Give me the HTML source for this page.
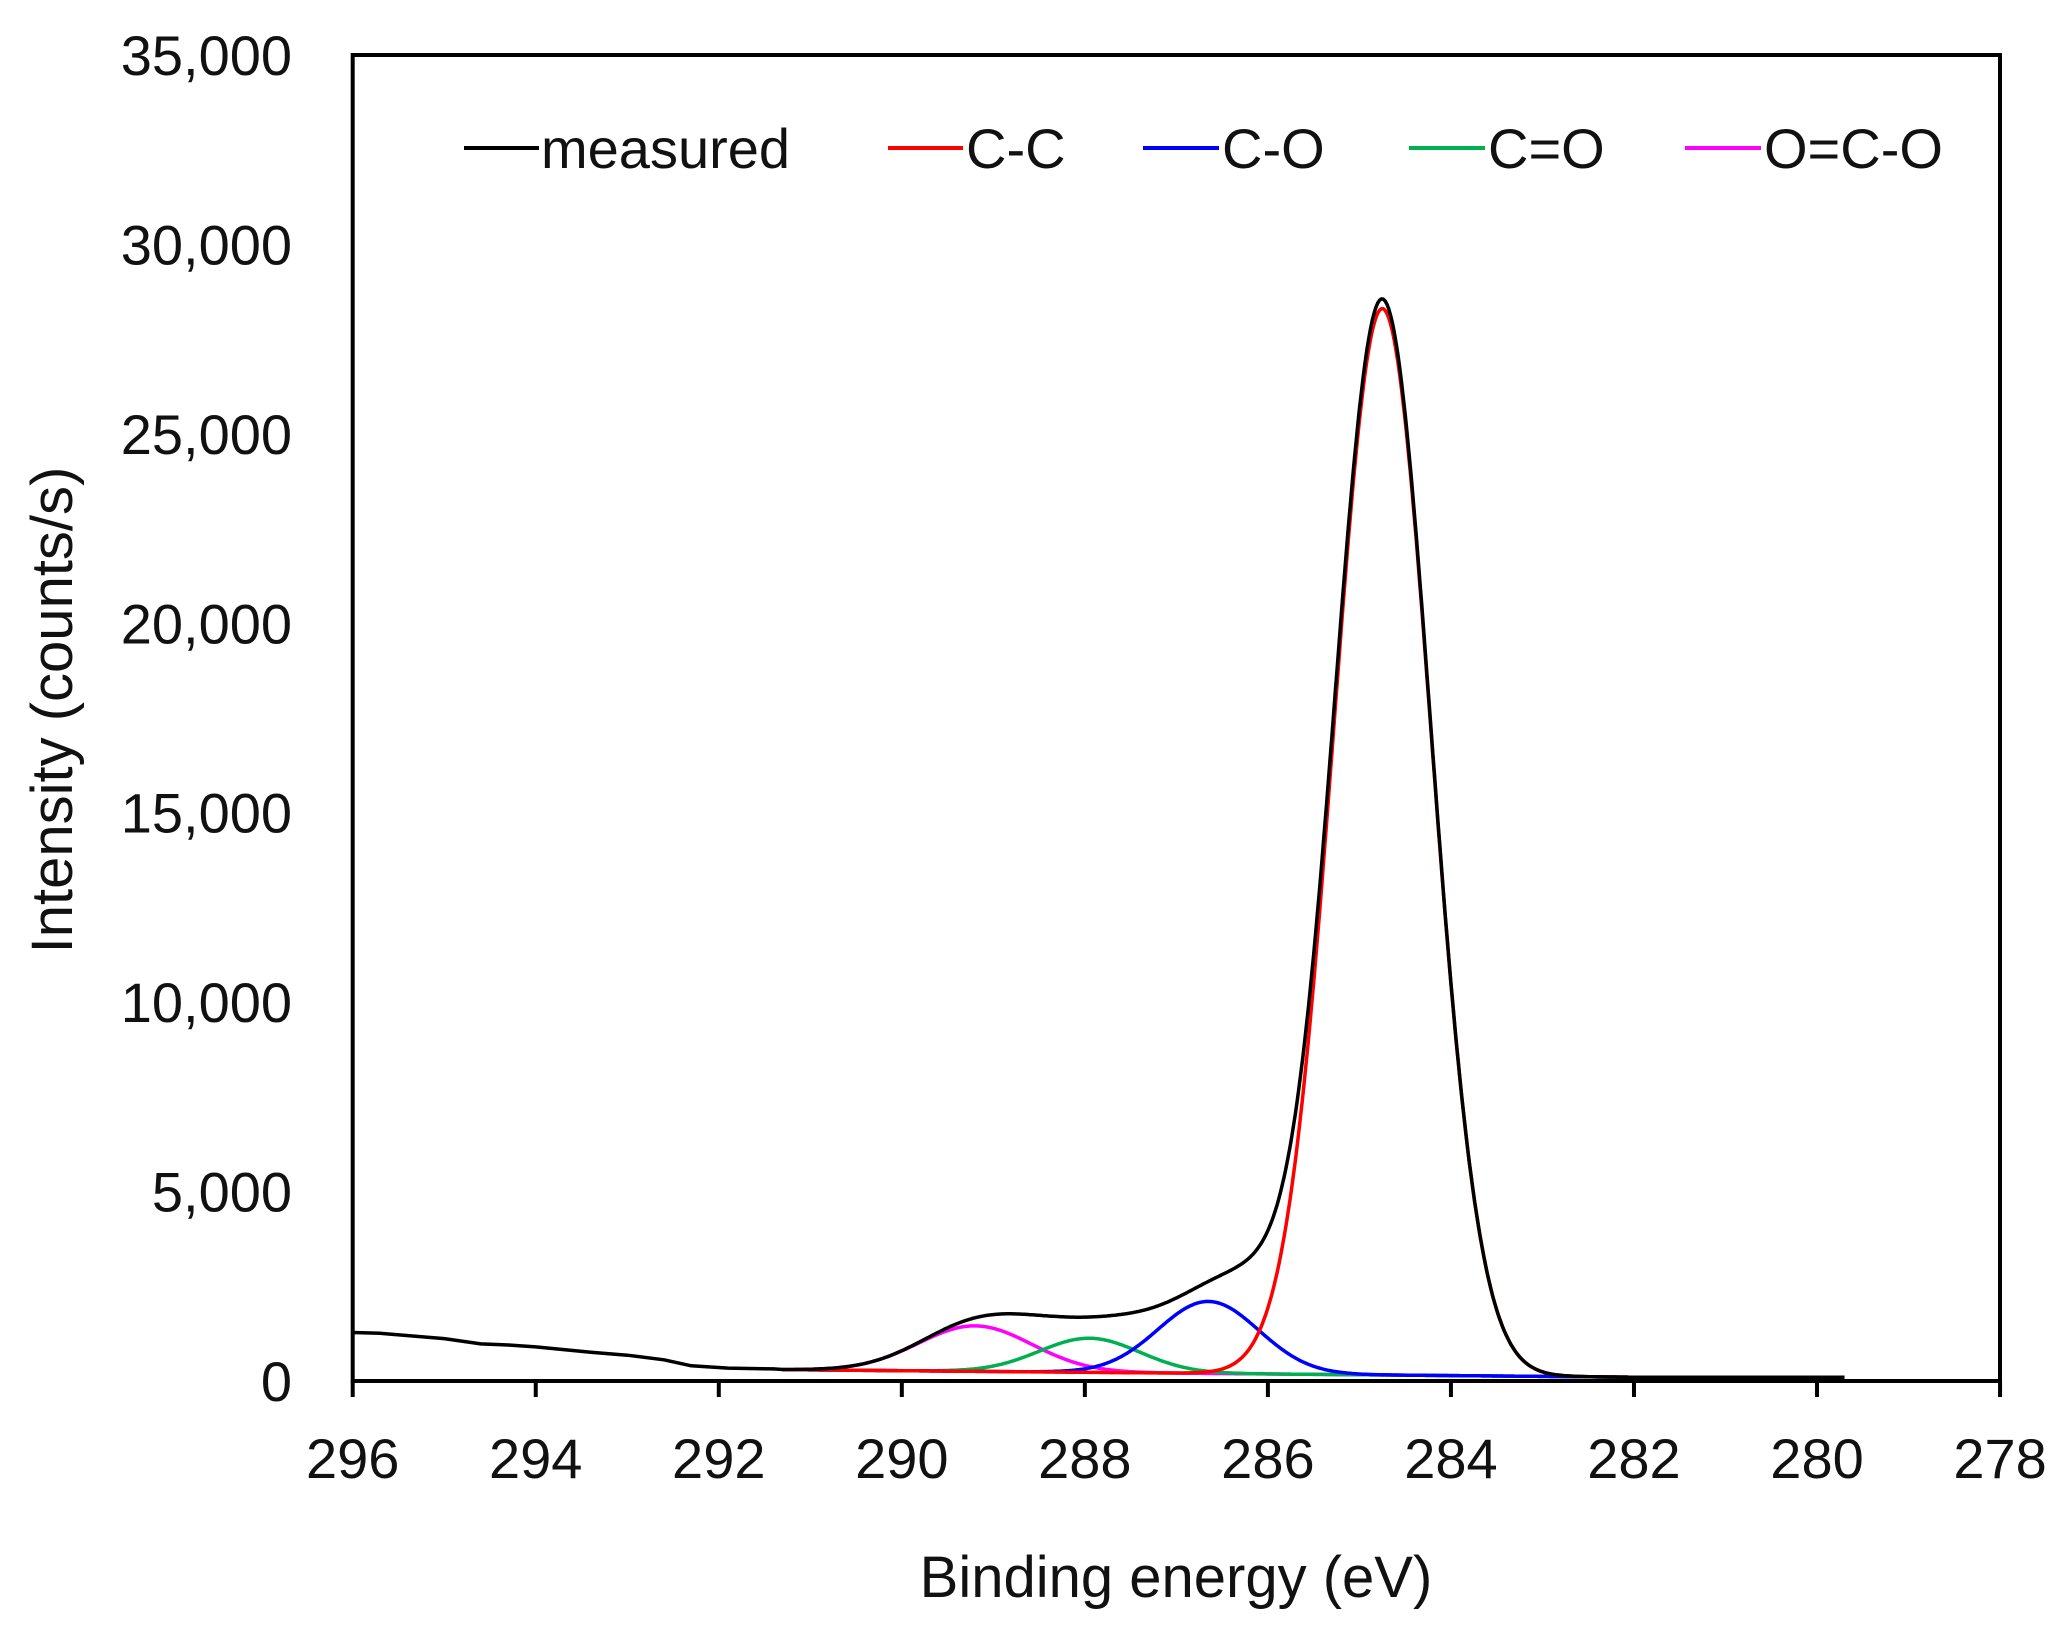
<!DOCTYPE html>
<html><head><meta charset="utf-8"><style>
html,body{margin:0;padding:0;background:#fff;}
svg{display:block;font-family:"Liberation Sans",sans-serif;}
</style></head><body>
<svg id="s" width="2060" height="1634" viewBox="0 0 2060 1634" xmlns="http://www.w3.org/2000/svg">
<rect width="2060" height="1634" fill="#fff"/>
<g id="curves" fill="none" stroke-width="3.5" stroke-linejoin="round"></g>
<rect x="352.7" y="55" width="1647.3" height="1326" fill="none" stroke="#000" stroke-width="4"/>
<g stroke="#000" stroke-width="4" id="ticks"></g>
<g font-size="56" fill="#111" text-anchor="end" id="ylab"></g>
<g font-size="56" fill="#111" text-anchor="middle" id="xlab"></g>
<text x="1176" y="1597" font-size="58" text-anchor="middle" fill="#111">Binding energy (eV)</text>
<text transform="translate(72,710) rotate(-90)" font-size="58" text-anchor="middle" fill="#111">Intensity (counts/s)</text>
<g font-size="56" fill="#111">
<line x1="464" y1="148" x2="539" y2="148" stroke="#000" stroke-width="4"/><text x="541" y="168">measured</text>
<line x1="888" y1="148" x2="963" y2="148" stroke="#ff0000" stroke-width="4"/><text x="966" y="168">C-C</text>
<line x1="1143" y1="148" x2="1219" y2="148" stroke="#0000ff" stroke-width="4"/><text x="1222" y="168">C-O</text>
<line x1="1409" y1="148" x2="1485" y2="148" stroke="#00b050" stroke-width="4"/><text x="1488" y="168">C=O</text>
<line x1="1685" y1="148" x2="1761" y2="148" stroke="#ff00ff" stroke-width="4"/><text x="1764" y="168">O=C-O</text>
</g>
</svg>
<script>
var X=function(E){return 352.7+(296-E)*91.52;};
var Y=function(I){return 1381-I*0.037886;};
var ns="http://www.w3.org/2000/svg";
var tk=document.getElementById("ticks"),yl=document.getElementById("ylab"),xl=document.getElementById("xlab");
for(var i=0;i<=7;i++){var y=Y(i*5000);
 var t=document.createElementNS(ns,"text");t.setAttribute("x",292);t.setAttribute("y",y+20);t.textContent=(i*5000).toLocaleString("en-US");yl.appendChild(t);}
for(var E=296;E>=278;E-=2){var x=X(E);
 var l=document.createElementNS(ns,"line");l.setAttribute("x1",x);l.setAttribute("x2",x);l.setAttribute("y1",1381);l.setAttribute("y2",1397);tk.appendChild(l);
 var t=document.createElementNS(ns,"text");t.setAttribute("x",x);t.setAttribute("y",1478);t.textContent=E;xl.appendChild(t);}
function g(E,c,a,s){return a*Math.exp(-0.5*Math.pow((E-c)/s,2));}
function base(E){if(E>291.3)return 300;if(E<282)return 100;return 100+200*(E-282)/9.3;}
var comps=[["#ff00ff",289.2,1200,0.62],["#00b050",287.95,900,0.55],["#0000ff",286.65,1900,0.55],["#ff0000",284.75,28150,0.53]];
var cg=document.getElementById("curves");
function path(pts,col){var p=document.createElementNS(ns,"path");p.setAttribute("d","M"+pts.join("L"));p.setAttribute("stroke",col);cg.appendChild(p);}
var meas=[];
var lp=[[296,1280],[295.7,1260],[295,1120],[294.6,980],[294.3,950],[294,900],[293.4,760],[293,680],[292.6,560],[292.3,400],[291.9,340],[291.4,320]];
lp.forEach(function(q){meas.push(X(q[0]).toFixed(1)+","+Y(q[1]).toFixed(1));});
for(var E=291.3;E>=279.7;E-=0.02){var s=base(E);comps.forEach(function(c){s+=g(E,c[1],c[2],c[3]);});
 s+=g(E,286.05,1100,0.42)+g(E,288.6,300,0.5)+g(E,287.5,300,0.4)+g(E,284.85,250,0.4);
 meas.push(X(E).toFixed(1)+","+Y(s).toFixed(1));}
comps.forEach(function(c){var pts=[];for(var E=291.3;E>=279.8;E-=0.02){pts.push(X(E).toFixed(1)+","+Y(base(E)+g(E,c[1],c[2],c[3])).toFixed(1));}path(pts,c[0]);});
path(meas,"#000");
</script>
</body></html>
